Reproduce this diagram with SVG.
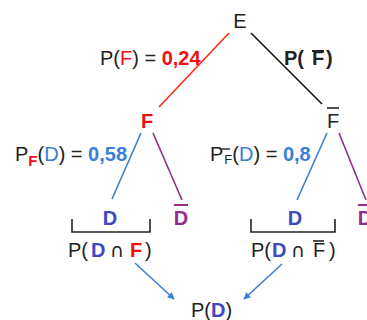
<svg xmlns="http://www.w3.org/2000/svg" width="367" height="320" viewBox="0 0 367 320">
<defs>
<style>
text{font-family:"Liberation Sans",Arial,sans-serif;font-size:20px;fill:#222}
.b{font-weight:bold}
.red{fill:#f01010}
.lb{fill:#3a7ed6}
.db{fill:#3d49c0}
.pu{fill:#932c8f}
.cap{font-family:"DejaVu Sans",sans-serif;font-size:19px}
.ln{fill:none;stroke-width:1.6}
</style>
<marker id="ah" viewBox="0 0 10 10" refX="9" refY="5" markerWidth="8" markerHeight="7" orient="auto-start-reverse" markerUnits="userSpaceOnUse">
<path d="M0,0 L10,5 L0,10 z" fill="#3a7ed6"/>
</marker>
</defs>
<g id="connectors">
<line class="ln" x1="229" y1="33" x2="159" y2="107" stroke="#ff2a10"/>
<line class="ln" x1="251" y1="33" x2="322" y2="104" stroke="#111"/>
<line class="ln" x1="141" y1="133" x2="112" y2="199" stroke="#3a7ed6"/>
<line class="ln" x1="153" y1="133" x2="182" y2="200" stroke="#932c8f"/>
<line class="ln" x1="327" y1="133" x2="297" y2="200" stroke="#3a7ed6"/>
<line class="ln" x1="339" y1="133" x2="366" y2="200" stroke="#932c8f"/>
<line class="ln" x1="135" y1="263" x2="174" y2="299" stroke="#3a7ed6" marker-end="url(#ah)"/>
<line class="ln" x1="282" y1="264" x2="244" y2="299" stroke="#3a7ed6" marker-end="url(#ah)"/>
</g>
<g id="E"><text x="240" y="28" text-anchor="middle">E</text></g>
<g id="label-PF"><text x="100" y="65">P(<tspan class="red">F</tspan>) = <tspan class="b red">0,24</tspan></text></g>
<g id="label-PFbar"><text x="284" y="65" class="b">P(</text><text x="312" y="65" class="b">F</text><text x="326" y="65" class="b">)</text><line x1="312" y1="51" x2="324" y2="51" stroke="#222" stroke-width="2"/></g>
<g id="F"><text x="147" y="128" text-anchor="middle" class="b red">F</text></g>
<g id="Fbar"><text x="333" y="128" text-anchor="middle">F</text><line x1="327" y1="108" x2="339" y2="108" stroke="#222" stroke-width="1.6"/></g>
<g id="label-PFD"><text x="15" y="161">P<tspan class="b red" font-size="15" dy="5">F</tspan><tspan dy="-5">(</tspan><tspan class="lb">D</tspan>) = <tspan class="b lb">0,58</tspan></text></g>
<g id="label-PFbarD"><text x="210" y="161">P<tspan font-size="13" dx="1" dy="3">F</tspan><tspan dy="-3">(</tspan><tspan class="lb">D</tspan>) = <tspan class="b lb">0,8</tspan></text><line x1="222" y1="149" x2="230" y2="149" stroke="#222" stroke-width="1.4"/></g>
<g id="D1"><text x="110" y="225" text-anchor="middle" class="b db">D</text></g>
<g id="Dbar1"><text x="181" y="225" text-anchor="middle" class="b pu">D</text><line x1="174" y1="205" x2="188" y2="205" stroke="#932c8f" stroke-width="2"/></g>
<g id="D2"><text x="295" y="225" text-anchor="middle" class="b db">D</text></g>
<g id="Dbar2"><text x="365" y="225" text-anchor="middle" class="b pu">D</text><line x1="358" y1="205" x2="372" y2="205" stroke="#932c8f" stroke-width="2"/></g>
<g id="bracket1"><path class="ln" d="M72,219 V232 H150 V219" stroke="#222"/></g>
<g id="bracket2"><path class="ln" d="M251,219 V232 H335 V219" stroke="#222"/></g>
<g id="PDF"><text x="68" y="257">P(</text><text x="91" y="257" class="b db">D</text><text x="110" y="257" class="cap">∩</text><text x="130" y="257" class="b red">F</text><text x="145" y="257">)</text></g>
<g id="PDFbar"><text x="251" y="257">P(</text><text x="272" y="257" class="b db">D</text><text x="291" y="257" class="cap">∩</text><text x="313" y="257">F</text><text x="329" y="257">)</text><line x1="313" y1="241" x2="324" y2="241" stroke="#222" stroke-width="1.6"/></g>
<g id="PD"><text x="191" y="317">P(<tspan class="b db">D</tspan>)</text></g>
</svg>
